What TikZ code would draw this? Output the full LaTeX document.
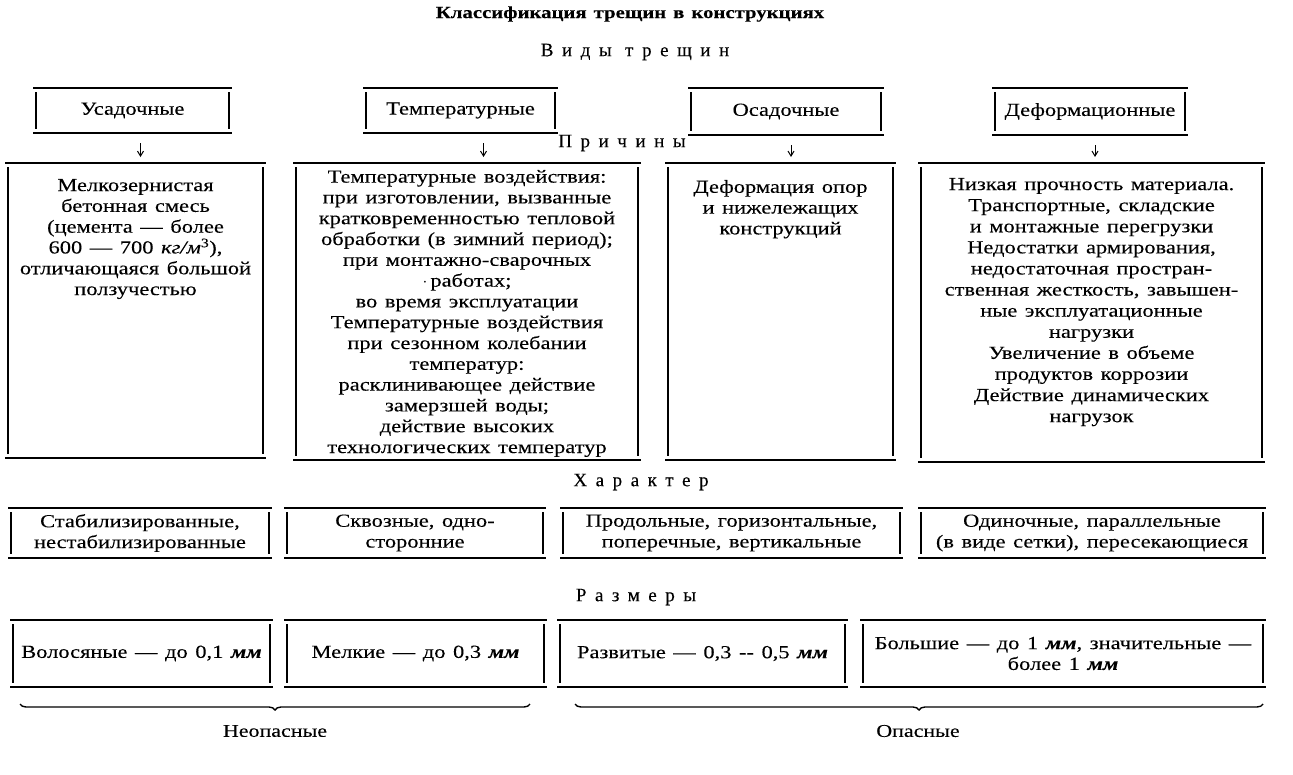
\documentclass[tikz,border=0pt]{standalone}
\usepackage{fontspec}
\setmainfont{Liberation Serif}[FakeStretch=1.22,FakeBold=0.15,WordSpace=1.35]
\newfontfamily\spacedfont{Liberation Serif}[LetterSpace=45,FakeBold=0.15]
\usetikzlibrary{decorations.pathreplacing,arrows.meta,calc}
\newcommand\bodyfont{\fontsize{18.4}{20.8}\selectfont}
\newcommand\mmu{\textbf{\textit{мм}}}
\tikzset{
  hl/.style={line width=1.4pt},
  vl/.style={line width=1.2pt},
  arr/.style={line width=1pt,-{Straight Barb[length=5pt,width=6pt]}},
  heading/.style={font=\spacedfont\fontsize{19}{22}\selectfont,inner sep=0pt},
  lbl/.style={font=\fontsize{18}{20}\selectfont,inner sep=0pt},
  brc/.style={line width=1.4pt,decorate,decoration={brace,mirror,amplitude=6pt}}
}
\newcommand\frameit[1]{%
  \draw[hl] (#1.north west) -- (#1.north east);
  \draw[hl] (#1.south west) -- (#1.south east);
  \draw[vl] ([shift={(3pt,-4pt)}]#1.north west) -- ([shift={(3pt,4pt)}]#1.south west);
  \draw[vl] ([shift={(-3pt,-4pt)}]#1.north east) -- ([shift={(-3pt,4pt)}]#1.south east);
}
% name, x1, y1, x2, y2, inner position, content
\newcommand\bx[7]{%
  \node[inner sep=0pt,outer sep=0pt] (#1) at ({(#2+#4)/2},{(#3+#5)/2})
    {\begin{minipage}[c][\dimexpr #5pt-#3pt\relax][#6]{\dimexpr #4pt-#2pt\relax}\centering\bodyfont #7\end{minipage}};
  \frameit{#1}%
}
\begin{document}
\begin{tikzpicture}[x=1pt,y=-1pt]
\useasboundingbox (0,0) rectangle (1293,774);
\node[font=\bfseries\fontsize{17}{18}\selectfont,inner sep=0pt] (title) at (630,14) {Классификация трещин в конструкциях};
\node[heading] (hvid) at (635,52) {Виды трещин};
\node[heading] (hpr) at (622,143) {Причины};
\node[heading] (hch) at (641,482) {Характер};
\node[heading] (hsz) at (636,597) {Размеры};

\bx{t1}{33}{88}{232}{133}{c}{Усадочные}
\bx{t2}{363}{88}{558}{133}{c}{Температурные}
\bx{t3}{688}{88}{884}{135}{c}{Осадочные}
\bx{t4}{992}{88}{1188}{135}{c}{Деформационные}

\bx{c1}{5}{163}{266}{458}{t}{\vspace*{16pt}Мелкозернистая\\ бетонная смесь\\ (цемента — более\\ 600 — 700 \textit{кг/м}\textsuperscript{3}),\\ отличающаяся большой\\ ползучестью}
\bx{c2}{293}{163}{641}{460}{t}{\vspace*{7pt}Температурные воздействия:\\ при изготовлении, вызванные\\ кратковременностью тепловой\\ обработки (в зимний период);\\ при монтажно-сварочных\\ $\cdot$\,работах;\\ во время эксплуатации\\ Температурные воздействия\\ при сезонном колебании\\ температур:\\ расклинивающее действие\\ замерзшей воды;\\ действие высоких\\ технологических температур}
\bx{c3}{665}{163}{896}{460}{t}{\vspace*{17pt}Деформация опор\\ и нижележащих\\ конструкций}
\bx{c4}{918}{163}{1265}{462}{t}{\fontsize{18.4}{21.1}\selectfont\vspace*{15pt}Низкая прочность материала.\\ Транспортные, складские\\ и монтажные перегрузки\\ Недостатки армирования,\\ недостаточная простран-\\ ственная жесткость, завышен-\\ ные эксплуатационные\\ нагрузки\\ Увеличение в объеме\\ продуктов коррозии\\ Действие динамических\\ нагрузок}

\bx{h1}{8}{508}{272}{558}{c}{Стабилизированные,\\ нестабилизированные}
\bx{h2}{284}{508}{546}{558}{c}{Сквозные, одно-\\ сторонние}
\bx{h3}{560}{508}{903}{558}{c}{Продольные, горизонтальные,\\ поперечные, вертикальные}
\bx{h4}{918}{508}{1266}{558}{c}{Одиночные, параллельные\\ (в виде сетки), пересекающиеся}

\bx{s1}{10}{620}{273}{687}{c}{Волосяные — до 0,1 \mmu}
\bx{s2}{284}{620}{547}{687}{c}{Мелкие — до 0,3 \mmu}
\bx{s3}{557}{620}{848}{687}{c}{Развитые — 0,3 -{}- 0,5 \mmu}
\bx{s4}{860}{620}{1266}{687}{c}{Большие — до 1 \mmu, значительные —\\ более 1 \mmu}

\draw[arr] ($(t1.south)+(8,10)$) -- ($(t1.south |- c1.north)+(8,-6)$);
\draw[arr] ($(t2.south)+(23,10)$) -- ($(t2.south |- c2.north)+(23,-6)$);
\draw[arr] ($(t3.south)+(5,10)$) -- ($(t3.south |- c3.north)+(5,-6)$);
\draw[arr] ($(t4.south)+(5,10)$) -- ($(t4.south |- c4.north)+(5,-6)$);

\coordinate (b1l) at (20,704);
\coordinate (b1r) at (530,704);
\coordinate (b2l) at (575,704);
\coordinate (b2r) at (1263,704);
\draw[brc] (b1l) -- (b1r);
\draw[brc] (b2l) -- (b2r);
\node[lbl] (safe) at (275,731) {Неопасные};
\node[lbl] (danger) at (918,731) {Опасные};
\end{tikzpicture}
\end{document}
